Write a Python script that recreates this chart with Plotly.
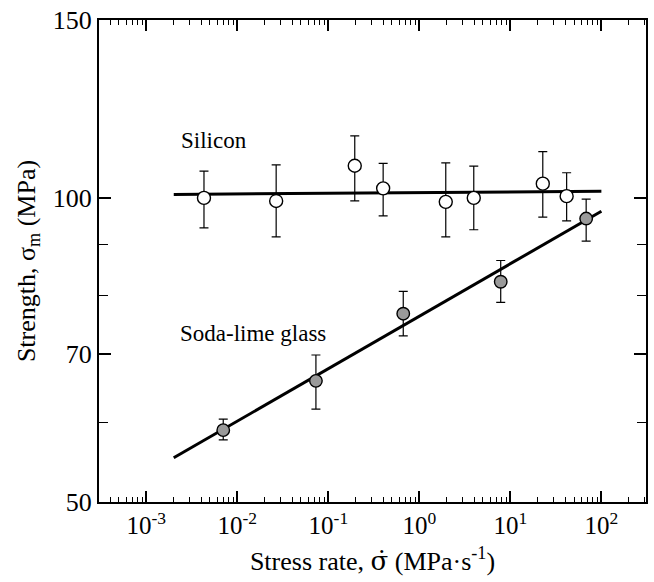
import plotly.graph_objects as go
import numpy as np

# ---- data ----
si_rate = [4.3e-3, 0.0267, 0.195, 0.40, 1.95, 3.96, 22.7, 41.5]
si_strength = [100.0, 99.3, 107.6, 102.2, 99.1, 100.0, 103.3, 100.4]
si_err_up = [6.3, 8.5, 7.6, 6.0, 9.2, 7.5, 7.8, 5.5]
si_err_down = [6.6, 7.8, 8.3, 6.2, 7.6, 7.0, 7.6, 5.5]

gl_rate = [7.0e-3, 0.073, 0.665, 7.83, 68.0]
gl_strength = [58.9, 65.9, 76.8, 82.6, 95.4]
gl_err_up = [1.5, 4.0, 4.0, 4.1, 4.3]
gl_err_down = [1.3, 4.1, 3.8, 3.8, 4.8]

fit_rate = [2.0e-3, 100.0]
si_fit = [100.8, 101.5]
gl_fit = [55.3, 97.0]

x_tickvals = [1e-3, 1e-2, 1e-1, 1e0, 1e1, 1e2]
x_ticktext = ["10<sup>-3</sup>", "10<sup>-2</sup>", "10<sup>-1</sup>",
              "10<sup>0</sup>", "10<sup>1</sup>", "10<sup>2</sup>"]
y_tickvals = [50, 70, 100, 150]
y_ticktext = ["50", "70", "100", "150"]
y_minor_vals = [60, 80, 90]

FONT = "Liberation Serif, Times New Roman, serif"

minor_x = [m * 10.0 ** e for e in range(-4, 3) for m in range(2, 10)]

fig = go.Figure()
fig.add_trace(go.Scatter(x=fit_rate, y=si_fit, mode="lines",
                         line=dict(color="black", width=3), showlegend=False))
fig.add_trace(go.Scatter(x=fit_rate, y=gl_fit, mode="lines",
                         line=dict(color="black", width=3), showlegend=False))
fig.add_trace(go.Scatter(
    x=si_rate, y=si_strength, mode="markers",
    marker=dict(symbol="circle", size=13, color="white",
                line=dict(color="black", width=1.4)),
    error_y=dict(type="data", array=si_err_up, arrayminus=si_err_down,
                 color="black", thickness=1.2, width=4.5),
    showlegend=False))
fig.add_trace(go.Scatter(
    x=gl_rate, y=gl_strength, mode="markers",
    marker=dict(symbol="circle", size=12.5, color="#9a9a9a",
                line=dict(color="black", width=1.4)),
    error_y=dict(type="data", array=gl_err_up, arrayminus=gl_err_down,
                 color="black", thickness=1.2, width=4.5),
    showlegend=False))

fig.add_annotation(x=0.1457, y=0.751, xref="paper", yref="paper",
                   text="Silicon", showarrow=False, xanchor="left",
                   yanchor="middle", font=dict(family=FONT, size=23, color="black"))
fig.add_annotation(x=0.144, y=0.3506, xref="paper", yref="paper",
                   text="Soda-lime glass", showarrow=False, xanchor="left",
                   yanchor="middle", font=dict(family=FONT, size=23, color="black"))

x_title = ("Stress rate, <span style=\"font-family:DejaVu Serif\">\u03c3\u0307</span>"
           " (MPa\u00b7s<sup>-1</sup>)")

fig.update_layout(
    width=654, height=582,
    margin=dict(l=99, r=6, t=20, b=80),
    paper_bgcolor="white", plot_bgcolor="white",
    font=dict(family=FONT, color="black", size=24),
    xaxis=dict(
        type="log", range=[-3.52, 2.49],
        tickmode="array", tickvals=x_tickvals, ticktext=x_ticktext,
        ticks="inside", ticklen=11, tickwidth=1.5, tickcolor="black",
        showline=True, linecolor="black", linewidth=2, mirror="ticks",
        showgrid=False, zeroline=False,
        tickfont=dict(family=FONT, size=25, color="black"),
        minor=dict(tickmode="array", tickvals=minor_x, ticks="inside",
                   ticklen=5, tickwidth=1.2, tickcolor="black", showgrid=False),
        title=dict(text=x_title,
                   font=dict(family=FONT, size=26, color="black"), standoff=14),
    ),
    yaxis=dict(
        type="log", range=[np.log10(50), np.log10(150)],
        tickmode="array", tickvals=y_tickvals, ticktext=y_ticktext,
        ticks="inside", ticklen=12, tickwidth=1.5, tickcolor="black",
        showline=True, linecolor="black", linewidth=2, mirror="ticks",
        showgrid=False, zeroline=False,
        tickfont=dict(family=FONT, size=26, color="black"),
        minor=dict(tickmode="array", tickvals=y_minor_vals, ticks="inside",
                   ticklen=9, tickwidth=1.4, tickcolor="black", showgrid=False),
        title=dict(text="Strength, \u03c3<sub>m</sub> (MPa)",
                   font=dict(family=FONT, size=26, color="black"), standoff=10),
    ),
)

fig.write_html("out.html")
